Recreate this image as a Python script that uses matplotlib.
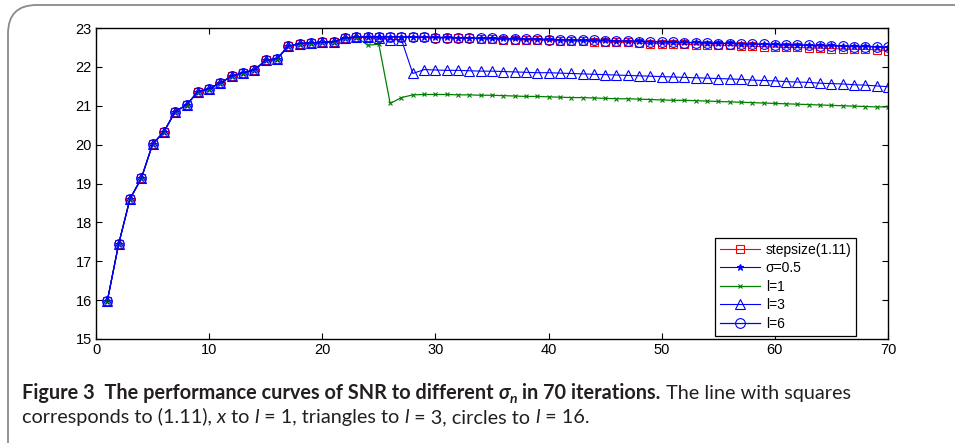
import matplotlib
matplotlib.use("Agg")
import matplotlib.pyplot as plt
from matplotlib.patches import FancyBboxPatch

# iterations 1..70
iters = list(range(1, 71))

# all curves share the first 23 iterations
shared = [15.98, 17.44, 18.60, 19.13, 20.01, 20.33, 20.85, 21.02, 21.36, 21.44,
          21.59, 21.76, 21.85, 21.92, 22.17, 22.21, 22.53, 22.60, 22.62, 22.63,
          22.65, 22.74, 22.77]

# iterations 24..70
step_tail = [22.77, 22.77, 22.77, 22.77, 22.76, 22.76, 22.75, 22.75, 22.74, 22.74,
             22.72, 22.72, 22.70, 22.70, 22.69, 22.69, 22.68, 22.67, 22.66, 22.66,
             22.65, 22.64, 22.63, 22.63, 22.61, 22.60, 22.60, 22.59, 22.58, 22.57,
             22.56, 22.56, 22.55, 22.54, 22.53, 22.52, 22.51, 22.50, 22.50, 22.49,
             22.48, 22.47, 22.46, 22.45, 22.45, 22.44, 22.42]
sigma_tail = [22.78, 22.78, 22.78, 22.78, 22.77, 22.77, 22.76, 22.76, 22.75, 22.75,
              22.74, 22.74, 22.73, 22.73, 22.72, 22.72, 22.71, 22.70, 22.70, 22.69,
              22.69, 22.68, 22.67, 22.67, 22.66, 22.65, 22.65, 22.64, 22.63, 22.63,
              22.62, 22.61, 22.61, 22.60, 22.59, 22.59, 22.58, 22.57, 22.57, 22.56,
              22.55, 22.55, 22.54, 22.53, 22.53, 22.52, 22.51]
l1_tail = [22.56, 22.58, 21.06, 21.21, 21.28, 21.29, 21.29, 21.29, 21.28, 21.28,
           21.27, 21.27, 21.26, 21.25, 21.24, 21.24, 21.23, 21.22, 21.21, 21.21,
           21.20, 21.19, 21.18, 21.18, 21.17, 21.16, 21.15, 21.14, 21.14, 21.13,
           21.12, 21.11, 21.10, 21.09, 21.08, 21.07, 21.06, 21.05, 21.04, 21.03,
           21.02, 21.01, 21.00, 20.99, 20.98, 20.97, 20.97]
l3_tail = [22.76, 22.75, 22.70, 22.70, 21.83, 21.93, 21.92, 21.91, 21.91, 21.90,
           21.89, 21.89, 21.88, 21.87, 21.86, 21.85, 21.85, 21.84, 21.83, 21.82,
           21.81, 21.80, 21.79, 21.78, 21.77, 21.76, 21.75, 21.74, 21.73, 21.72,
           21.71, 21.70, 21.69, 21.68, 21.66, 21.65, 21.64, 21.62, 21.61, 21.60,
           21.58, 21.57, 21.56, 21.54, 21.53, 21.51, 21.49]
l6_tail = [22.77, 22.77, 22.77, 22.77, 22.76, 22.76, 22.75, 22.75, 22.74, 22.74,
           22.73, 22.73, 22.72, 22.72, 22.71, 22.71, 22.70, 22.69, 22.69, 22.68,
           22.68, 22.67, 22.66, 22.66, 22.65, 22.64, 22.64, 22.63, 22.62, 22.62,
           22.61, 22.60, 22.60, 22.59, 22.58, 22.58, 22.57, 22.56, 22.56, 22.55,
           22.54, 22.54, 22.53, 22.52, 22.52, 22.51, 22.50]

labels = ["stepsize(1.11)", "σ=0.5", "l=1", "l=3", "l=6"]

plt.rcParams['font.family'] = ['Liberation Sans', 'DejaVu Sans']

fig = plt.figure(figsize=(9.55, 4.43), dpi=100)

# grey rounded frame around the figure (runs off right and bottom edges)
frame = FancyBboxPatch((8 / 955, -0.2), 1.2, 1.2 - 5 / 443,
                       boxstyle="round,pad=0,rounding_size=0.03",
                       transform=fig.transFigure, fill=False,
                       edgecolor="#8a8a8a", linewidth=1.3, mutation_aspect=955 / 443)
fig.patches.append(frame)

ax = fig.add_axes([96 / 955, 1 - 339 / 443, 792 / 955, 311 / 443])

series = [
    (shared + step_tail, "r", "s", 5.5, 0.8),
    (shared + sigma_tail, "b", "*", 5, 0.8),
    (shared + l1_tail, "g", "x", 3.5, 0.9),
    (shared + l3_tail, "b", "^", 7, 0.8),
    (shared + l6_tail, "b", "o", 7, 0.9),
]
for (vals, c, m, ms, lw), lab in zip(series, labels):
    ax.plot(iters, vals, color=c, marker=m, markersize=ms, markerfacecolor="none"
            if m not in ("*", "x") else c, markeredgewidth=0.8, linewidth=lw, label=lab)

ax.set_xlim(0, 70)
ax.set_ylim(15, 23)
ax.set_xticks(range(0, 71, 10))
ax.set_yticks(range(15, 24))
ax.tick_params(direction="in", top=True, right=True, labelsize=10.5, length=4, pad=3)
for s in ax.spines.values():
    s.set_linewidth(1.0)

leg = ax.legend(loc="upper left", bbox_to_anchor=(715 / 955, 1 - 238 / 443),
                bbox_transform=fig.transFigure, fontsize=10, numpoints=1,
                handlelength=2.9, fancybox=False, framealpha=1, edgecolor="black",
                borderpad=0.35, labelspacing=0.32, handletextpad=0.4, borderaxespad=0)
leg.get_frame().set_linewidth(0.9)

# caption, written as runs of differently styled text
cap_font = ['Lato', 'DejaVu Sans']
fs = 14.3
line1 = [("Figure 3  The performance curves of SNR to different ", "bold", "normal"),
         ("σ", "bold", "italic"), ("n", "bold", "italic", "sub"),
         (" in 70 iterations.", "bold", "normal"),
         (" The line with squares", "normal", "normal")]
line2 = [("corresponds to (1.11), ", "normal", "normal"), ("x", "normal", "italic"),
         (" to ", "normal", "normal"), ("l", "normal", "italic"),
         (" = 1, triangles to ", "normal", "normal"), ("l", "normal", "italic"),
         (" = 3, circles to ", "normal", "normal"), ("l", "normal", "italic"),
         (" = 16.", "normal", "normal")]

renderer = fig.canvas.get_renderer()


def write_line(runs, x0, y0):
    x = x0
    for run in runs:
        txt, wt, st = run[:3]
        sub = len(run) > 3
        t = fig.text(x / 955, 1 - (y0 + (4 if sub else 0)) / 443, txt,
                     fontsize=fs * (0.7 if sub else 1), fontweight=wt, fontstyle=st,
                     family=cap_font, color="#231f20", va="baseline", ha="left")
        bb = t.get_window_extent(renderer)
        x += bb.width


write_line(line1, 22, 399)
write_line(line2, 22, 423)

fig.savefig("out.png", dpi=100)
